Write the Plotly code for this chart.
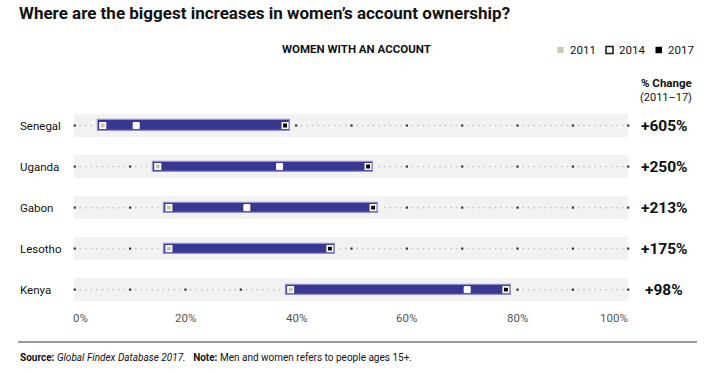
import plotly.graph_objects as go

# ---------------- data ----------------
countries = ["Senegal", "Uganda", "Gabon", "Lesotho", "Kenya"]
v2011 = [5.05, 15.0, 17.0, 17.0, 39.0]
v2014 = [11.1, 37.0, 31.1, None, 70.9]
v2017 = [38.0, 53.0, 53.9, 46.1, 77.9]
pct_change = ["+605%", "+250%", "+213%", "+175%", "+98%"]
tick_vals = [0, 20, 40, 60, 80, 100]
tick_text = ["0%", "20%", "40%", "60%", "80%", "100%"]
years = ["2011", "2014", "2017"]

# ---------------- layout geometry ----------------
W_FIG, H_FIG = 720, 374
L, R, T, B = 72, 89, 105, 70
PW = W_FIG - L - R
PH = H_FIG - T - B
FONT = "Roboto"

def px(x):
    return (x - L) / PW

def py(y):
    return 1 - (y - T) / PH

PAD = 0.85  # bar padding beyond markers (in % units)

fig = go.Figure()

# background bands
fig.add_trace(go.Bar(
    y=countries, x=[100.2] * len(countries), base=[-0.2] * len(countries),
    orientation="h", width=0.56, marker=dict(color="#f2f2f2", line=dict(width=0)),
    hoverinfo="skip", showlegend=False))

# dotted guide lines: minor every 1%, major every 10% (hidden behind the range bars)
minor_x, minor_y, major_x, major_y = [], [], [], []
for c, a, b in zip(countries, v2011, v2017):
    for k in range(0, 101):
        if a - PAD - 0.3 <= k <= b + PAD + 0.3:
            continue
        if k % 10 == 0:
            major_x.append(k); major_y.append(c)
        else:
            minor_x.append(k); minor_y.append(c)
fig.add_trace(go.Scatter(x=minor_x, y=minor_y, mode="markers",
                         marker=dict(symbol="square", size=1.6, color="#c8c8c8"),
                         hoverinfo="skip", showlegend=False))
fig.add_trace(go.Scatter(x=major_x, y=major_y, mode="markers",
                         marker=dict(symbol="square", size=2.2, color="#333333"),
                         hoverinfo="skip", showlegend=False))

# range bars 2011 -> 2017
fig.add_trace(go.Bar(
    y=countries,
    x=[(b - a) + 2 * PAD for a, b in zip(v2011, v2017)],
    base=[a - PAD for a in v2011],
    orientation="h", width=0.245,
    marker=dict(color="#383892", line=dict(color="#9191cc", width=1.2)),
    hoverinfo="skip", showlegend=False))

# markers
fig.add_trace(go.Scatter(x=v2011, y=countries, mode="markers", name="2011",
                         marker=dict(symbol="square", size=5.5, color="#c8c5b0",
                                     line=dict(color="white", width=1.6)),
                         showlegend=False))
fig.add_trace(go.Scatter(x=v2014, y=countries, mode="markers", name="2014",
                         marker=dict(symbol="square", size=6, color="white",
                                     line=dict(color="white", width=1)),
                         showlegend=False))
fig.add_trace(go.Scatter(x=v2017, y=countries, mode="markers", name="2017",
                         marker=dict(symbol="square", size=5.5, color="#000000",
                                     line=dict(color="white", width=1.6)),
                         showlegend=False))

annotations = []
shapes = []

# title
annotations.append(dict(text="<b>Where are the biggest increases in women’s account ownership?</b>",
                        xref="paper", yref="paper", x=px(17), y=py(13),
                        xanchor="left", yanchor="middle", showarrow=False,
                        font=dict(family=FONT, size=17, color="#111111")))
# subtitle
annotations.append(dict(text="<b>WOMEN WITH AN ACCOUNT</b>",
                        xref="paper", yref="paper", x=px(356), y=py(49),
                        xanchor="center", yanchor="middle", showarrow=False,
                        font=dict(family=FONT, size=11.5, color="#111111")))

# legend (custom)
leg_sq = [(557.5, 563.5), (606, 613), (655.5, 662)]
leg_txt_x = [568, 617, 666]
leg_y = 50
shapes.append(dict(type="rect", xref="paper", yref="paper",
                   x0=px(leg_sq[0][0]), x1=px(leg_sq[0][1]), y0=py(leg_y + 3), y1=py(leg_y - 3),
                   fillcolor="#c8c5b0", line=dict(width=0)))
shapes.append(dict(type="rect", xref="paper", yref="paper",
                   x0=px(leg_sq[1][0]), x1=px(leg_sq[1][1]), y0=py(leg_y + 3.5), y1=py(leg_y - 3.5),
                   fillcolor="white", line=dict(color="#111111", width=1.5)))
shapes.append(dict(type="rect", xref="paper", yref="paper",
                   x0=px(leg_sq[2][0]), x1=px(leg_sq[2][1]), y0=py(leg_y + 3.25), y1=py(leg_y - 3.25),
                   fillcolor="#000000", line=dict(width=0)))
for tx, yr in zip(leg_txt_x, years):
    annotations.append(dict(text=yr, xref="paper", yref="paper", x=px(tx), y=py(leg_y),
                            xanchor="left", yanchor="middle", showarrow=False,
                            font=dict(family=FONT, size=11.5, color="#111111")))

# % change header
annotations.append(dict(text="<b>% Change</b>", xref="paper", yref="paper",
                        x=px(666), y=py(83), xanchor="center", yanchor="middle",
                        showarrow=False, font=dict(family=FONT, size=11.5, color="#111111")))
annotations.append(dict(text="(2011–17)", xref="paper", yref="paper",
                        x=px(666), y=py(97), xanchor="center", yanchor="middle",
                        showarrow=False, font=dict(family=FONT, size=11, color="#111111")))

# row labels and change values
for c, pc in zip(countries, pct_change):
    annotations.append(dict(text=c, xref="paper", yref="y", x=px(18), y=c,
                            xanchor="left", yanchor="middle", showarrow=False,
                            font=dict(family=FONT, size=11.5, color="#111111")))
    annotations.append(dict(text=f"<b>{pc}</b>", xref="paper", yref="y", x=px(664), y=c,
                            xanchor="center", yanchor="middle", showarrow=False,
                            font=dict(family=FONT, size=15.5, color="#111111")))

# x tick labels
for i, (tv, tt) in enumerate(zip(tick_vals, tick_text)):
    anchor = "left" if i == 0 else ("right" if i == len(tick_vals) - 1 else "center")
    shift = -4 if i == 0 else (2 if i == len(tick_vals) - 1 else 0)
    annotations.append(dict(text=tt, xref="x", yref="paper", x=tv, xshift=shift, y=py(318),
                            xanchor=anchor, yanchor="middle", showarrow=False,
                            font=dict(family=FONT, size=11.5, color="#555555")))

# bottom rule and source
shapes.append(dict(type="line", xref="paper", yref="paper",
                   x0=px(18), x1=px(697), y0=py(342), y1=py(342),
                   line=dict(color="#7a7a7a", width=1.5)))
annotations.append(dict(text="<b>Source:</b> <i>Global Findex Database 2017.</i>   <b>Note:</b> Men and women refers to people ages 15+.",
                        xref="paper", yref="paper", x=px(18), y=py(357),
                        xanchor="left", yanchor="middle", showarrow=False,
                        font=dict(family=FONT, size=10, color="#111111")))

fig.update_layout(
    width=W_FIG, height=H_FIG,
    margin=dict(l=L, r=R, t=T, b=B, pad=0),
    paper_bgcolor="white", plot_bgcolor="white",
    barmode="overlay", bargap=0,
    showlegend=False,
    xaxis=dict(range=[-0.5, 100.5], showgrid=False, zeroline=False,
               showticklabels=False, ticks="", fixedrange=True),
    yaxis=dict(type="category", categoryorder="array", categoryarray=countries[::-1],
               range=[-0.35, 4.5], showgrid=False, zeroline=False,
               showticklabels=False, ticks="", fixedrange=True),
    annotations=annotations, shapes=shapes,
    font=dict(family=FONT),
)

fig.write_html("out.html", config={"displayModeBar": False},
               post_script="document.body.style.margin='0';document.body.style.padding='0';")
